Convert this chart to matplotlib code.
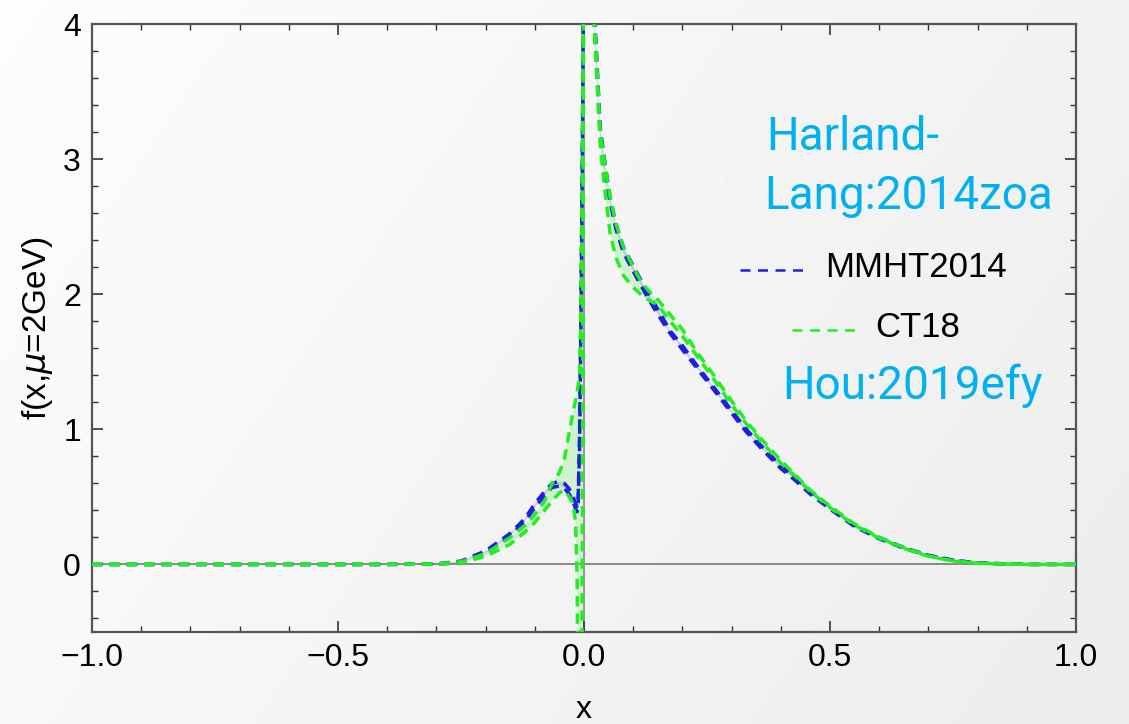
import numpy as np
import matplotlib.pyplot as plt
from matplotlib.ticker import MultipleLocator, FixedLocator

# momentum fraction grid (dense near x = 0 where the pdf spikes)
x = [-1.0, -0.6, -0.4, -0.3, -0.25, -0.2, -0.15, -0.12, -0.1, -0.08, -0.065,
     -0.05, -0.04, -0.03, -0.022, -0.017, -0.014, -0.012, -0.009, -0.006,
     -0.003, -0.001, 0.003, 0.01, 0.018, 0.025, 0.033, 0.043, 0.053, 0.065,
     0.08, 0.1, 0.115, 0.13, 0.15, 0.175, 0.2, 0.23, 0.26, 0.3, 0.33, 0.36,
     0.4, 0.43, 0.46, 0.5, 0.55, 0.6, 0.65, 0.7, 0.75, 0.8, 0.9, 1.0]

# MMHT2014 error band
mmht_lo = [0.0, 0.0, 0.0, 0.002, 0.015, 0.08, 0.21, 0.32, 0.42, 0.51, 0.57,
           0.58, 0.565, 0.52, 0.46, 0.41, 0.39, 0.43, 0.85, 1.85, 3.15, 4.55,
           6.0, 4.95, 4.2, 3.72, 3.17, 2.9, 2.68, 2.48, 2.31, 2.17, 2.07,
           1.97, 1.85, 1.71, 1.59, 1.45, 1.31, 1.12, 0.98, 0.86, 0.71, 0.62,
           0.52, 0.41, 0.28, 0.19, 0.12, 0.065, 0.03, 0.01, 0.0, 0.0]
mmht_hi = [0.0, 0.0, 0.0, 0.004, 0.025, 0.1, 0.23, 0.34, 0.45, 0.54, 0.6,
           0.615, 0.6, 0.56, 0.5, 0.45, 0.43, 0.47, 0.95, 1.95, 3.25, 4.65,
           6.0, 5.05, 4.3, 3.82, 3.23, 2.96, 2.72, 2.52, 2.35, 2.21, 2.11,
           2.01, 1.89, 1.73, 1.62, 1.47, 1.33, 1.14, 1.0, 0.88, 0.73, 0.64,
           0.54, 0.43, 0.29, 0.2, 0.125, 0.068, 0.032, 0.011, 0.0, 0.0]

# CT18 error band
ct18_lo = [0.0, 0.0, 0.0, 0.002, 0.012, 0.06, 0.15, 0.24, 0.31, 0.4, 0.47,
           0.53, 0.55, 0.5, 0.45, 0.3, -0.1, -1.0, -3.0, -3.0, 0.5, 4.55,
           6.0, 4.9, 4.15, 3.67, 3.1, 2.75, 2.45, 2.27, 2.14, 2.05, 2.0, 1.96,
           1.92, 1.8, 1.69, 1.54, 1.39, 1.18, 1.04, 0.91, 0.75, 0.65, 0.54,
           0.42, 0.29, 0.195, 0.12, 0.06, 0.025, 0.008, 0.0, 0.0]
ct18_hi = [0.0, 0.0, 0.0, 0.004, 0.02, 0.08, 0.2, 0.29, 0.37, 0.47, 0.6,
           0.68, 0.78, 0.98, 1.13, 1.22, 1.28, 1.32, 1.4, 1.9, 3.2, 4.6,
           6.0, 5.0, 4.25, 3.77, 3.2, 2.95, 2.72, 2.52, 2.35, 2.2, 2.1, 2.03,
           1.96, 1.85, 1.74, 1.57, 1.42, 1.21, 1.06, 0.93, 0.77, 0.66, 0.55,
           0.43, 0.3, 0.2, 0.125, 0.063, 0.027, 0.009, 0.0, 0.0]

blue = "#1f1fe0"
green = "#22ee22"
cite = "#00b0f0"

fig = plt.figure(figsize=(11.29, 7.24), dpi=100)

# soft grey gradient behind everything
bg = fig.add_axes([0, 0, 1, 1], zorder=-10)
gx, gy = np.meshgrid(np.linspace(0, 1, 300), np.linspace(0, 1, 200))
shade = 0.99 - 0.055 * (0.8 * gx + 0.35 * gy)
bg.imshow(shade, cmap="gray", vmin=0, vmax=1, aspect="auto",
          extent=[0, 1, 0, 1], origin="upper")
bg.axis("off")

ax = fig.add_axes([92 / 1129, 1 - 632 / 724, 984 / 1129, 608 / 724])
ax.set_facecolor("none")

ax.axhline(0, color="#777777", lw=1.2, zorder=1)
ax.axvline(0, color="#999999", lw=1.5, zorder=1)

ax.fill_between(x, mmht_lo, mmht_hi, color=blue, alpha=0.18, lw=0, zorder=2)
ax.fill_between(x, ct18_lo, ct18_hi, color=green, alpha=0.18, lw=0, zorder=2)
for y in (mmht_lo, mmht_hi):
    ax.plot(x, y, color=blue, lw=2.5, ls=(0, (3, 2)), zorder=3)
for y in (ct18_lo, ct18_hi):
    ax.plot(x, y, color=green, lw=2.5, ls=(0, (3, 2)), zorder=4)

ax.set_xlim(-1, 1)
ax.set_ylim(-0.5, 4)
ax.xaxis.set_major_locator(FixedLocator([-1.0, -0.5, 0.0, 0.5, 1.0]))
ax.xaxis.set_minor_locator(MultipleLocator(0.1))
ax.xaxis.set_major_formatter(plt.FuncFormatter(lambda v, p: f"{v:.1f}".replace("-", "\u2212")))
ax.yaxis.set_major_locator(FixedLocator([0, 1, 2, 3, 4]))
ax.yaxis.set_minor_locator(MultipleLocator(0.2))
ax.yaxis.set_major_formatter(plt.FuncFormatter(lambda v, p: f"{v:.0f}"))

ax.tick_params(which="both", direction="in", top=True, right=True,
               color="#333333", labelsize=23, labelfontfamily="Liberation Sans")
ax.tick_params(which="major", length=8, width=1.2, pad=8)
ax.tick_params(which="minor", length=4, width=1)
for s in ax.spines.values():
    s.set_color("#555555")
    s.set_linewidth(1.6)

ax.set_xlabel("x", fontsize=23, family="Liberation Sans", labelpad=16)
ax.set_ylabel(r"f(x,$\mu$=2GeV)", fontsize=24, family="Liberation Sans", labelpad=6)

# legend drawn by hand in data coordinates
ax.text(0.37, 3.16, "Harland-", color=cite, fontsize=33, family="Roboto",
        ha="left", va="center")
ax.text(0.366, 2.73, "Lang:2014zoa", color=cite, fontsize=33, family="Roboto",
        ha="left", va="center")
ax.plot([0.317, 0.455], [2.18, 2.18], color=blue, lw=1.8, ls=(0, (4, 3)))
ax.text(0.49, 2.2, "MMHT2014", color="black", fontsize=25,
        family="Liberation Sans", ha="left", va="center")
ax.plot([0.423, 0.561], [1.733, 1.733], color=green, lw=1.8, ls=(0, (4, 3)))
ax.text(0.591, 1.756, "CT18", color="black", fontsize=25,
        family="Liberation Sans", ha="left", va="center")
ax.text(0.402, 1.32, "Hou:2019efy", color=cite, fontsize=33, family="Roboto",
        ha="left", va="center")

fig.savefig("out.png", dpi=100)
